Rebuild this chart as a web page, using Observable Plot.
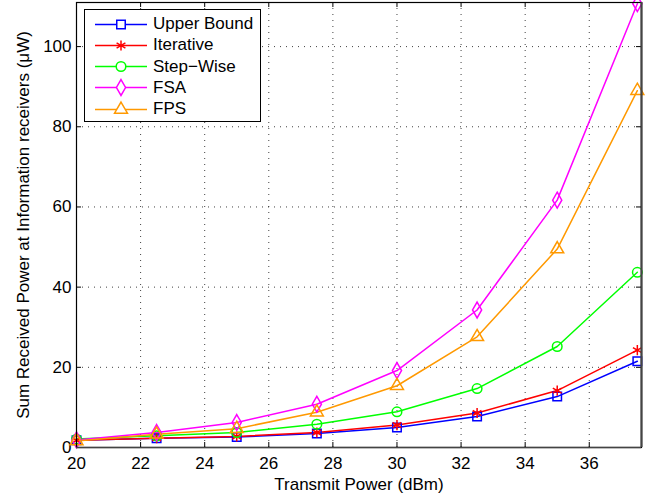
<!DOCTYPE html>
<html>
<head>
<meta charset="utf-8">
<script src="https://cdn.jsdelivr.net/npm/d3@7"></script>
<script src="https://cdn.jsdelivr.net/npm/@observablehq/plot@0.6"></script>
<style>
  body { margin: 0; background: #fff; }
  #wrap { position: relative; width: 662px; height: 495px; font-family: "Liberation Sans", Arial, Helvetica, sans-serif; }
  #legend { position: absolute; left: 84px; top: 9px; width: 177px; height: 113px; border: 1.3px solid #000; background: #fff; box-sizing: border-box; }
  .item { position: absolute; left: 0; height: 21px; display: flex; align-items: center; font-size: 17px; color: #000; }
  .item svg { margin-left: 10px; margin-right: 6px; }
</style>
</head>
<body>
<div id="wrap"></div>
<script>
const xValues = [20, 22.5, 25, 27.5, 30, 32.5, 35, 37.5];
const seriesNames = ["Upper Bound", "Iterative", "Step\u2212Wise", "FSA", "FPS"];
const upperBound = [1.8, 2.3, 2.6, 3.5, 5.0, 7.75, 12.7, 21.5];
const iterative  = [1.8, 2.3, 2.75, 3.75, 5.6, 8.6, 14.2, 24.3];
const stepWise   = [2.1, 2.9, 3.75, 5.8, 8.9, 14.7, 25.2, 43.7];
const fsa        = [1.9, 3.75, 6.25, 10.8, 19.2, 34.3, 61.7, 110.7];
const fps        = [1.6, 3.3, 4.7, 8.8, 15.4, 27.6, 49.5, 89.0];
const colors  = ["#0000ff", "#ff0000", "#00ff00", "#ff00ff", "#ff9900"];
const symbols = ["square", "asterisk", "circle", "diamond", "triangle"];
const xTicks = [20, 22, 24, 26, 28, 30, 32, 34, 36];
const yTicks = [0, 20, 40, 60, 80, 100];

const seriesValues = [upperBound, iterative, stepWise, fsa, fps];
const data = [];
seriesNames.forEach((s, i) => xValues.forEach((x, j) => data.push({series: s, x, y: seriesValues[i][j]})));

const xMin = 20, xMax = 37.63, yMin = 0, yMax = 111;
const tickLenY = 1.25;          // inward tick length in y units (~5px)
const tickLenX = 5 / 32.1;      // inward tick length in x units (~5px)

const chart = Plot.plot({
  width: 662, height: 495,
  marginLeft: 76, marginRight: 21, marginTop: 2, marginBottom: 48,
  style: {fontFamily: "Liberation Sans, Arial, Helvetica, sans-serif", fontSize: "17px", background: "#fff"},
  x: {domain: [xMin, xMax]},
  y: {domain: [yMin, yMax]},
  color: {domain: seriesNames, range: colors},
  symbol: {domain: seriesNames, range: symbols},
  marks: [
    Plot.gridX({ticks: xTicks, stroke: "#000", strokeOpacity: 0.75, strokeDasharray: "1,5"}),
    Plot.gridY({ticks: yTicks, stroke: "#000", strokeOpacity: 0.75, strokeDasharray: "1,5"}),
    Plot.ruleX(xTicks, {x: d => d, y1: yMin, y2: yMin + tickLenY, stroke: "#000"}),
    Plot.ruleX(xTicks, {x: d => d, y1: yMax - tickLenY, y2: yMax, stroke: "#000"}),
    Plot.ruleY(yTicks, {y: d => d, x1: xMin, x2: xMin + tickLenX, stroke: "#000"}),
    Plot.ruleY(yTicks, {y: d => d, x1: xMax - tickLenX, x2: xMax, stroke: "#000"}),
    Plot.axisX({ticks: xTicks, tickSize: 0, tickPadding: 9, label: "Transmit Power (dBm)", labelAnchor: "center", labelArrow: "none", labelOffset: 42, fontSize: 17}),
    Plot.axisY({ticks: yTicks, tickSize: 0, tickPadding: 5, label: "Sum Received Power at Information receivers (\u03bcW)", labelAnchor: "center", labelArrow: "none", labelOffset: 60, fontSize: 17}),
    Plot.line(data, {x: "x", y: "y", z: "series", stroke: "series", strokeWidth: 1.5}),
    Plot.dot(data, {x: "x", y: "y", symbol: "series", stroke: "series", fill: "none", r: 4.8, strokeWidth: 1.5}),
    Plot.frame({stroke: "#000", strokeWidth: 1.2}),
    Plot.ruleX([xMax], {stroke: "#444", strokeWidth: 2.2}),
    Plot.ruleY([yMin], {stroke: "#444", strokeWidth: 1.4})
  ]
});

const wrap = document.getElementById("wrap");
wrap.appendChild(chart);

// Legend
const legend = document.createElement("div");
legend.id = "legend";
const symMap = {square: d3.symbolSquare, asterisk: d3.symbolAsterisk, circle: d3.symbolCircle, diamond: d3.symbolDiamond, triangle: d3.symbolTriangle};
seriesNames.forEach((name, i) => {
  const item = document.createElement("div");
  item.className = "item";
  item.style.top = (3.5 + i * 21.3) + "px";
  const svg = d3.create("svg").attr("width", 52).attr("height", 21);
  svg.append("line").attr("x1", 0).attr("x2", 52).attr("y1", 10.5).attr("y2", 10.5).attr("stroke", colors[i]).attr("stroke-width", 1.5);
  svg.append("path").attr("transform", "translate(26,10.5)")
    .attr("d", d3.symbol(symMap[symbols[i]], Math.PI * 23)())
    .attr("fill", "#fff").attr("stroke", colors[i]).attr("stroke-width", 1.5);
  item.appendChild(svg.node());
  const t = document.createElement("span");
  t.textContent = name;
  item.appendChild(t);
  legend.appendChild(item);
});
wrap.appendChild(legend);
</script>
</body>
</html>
